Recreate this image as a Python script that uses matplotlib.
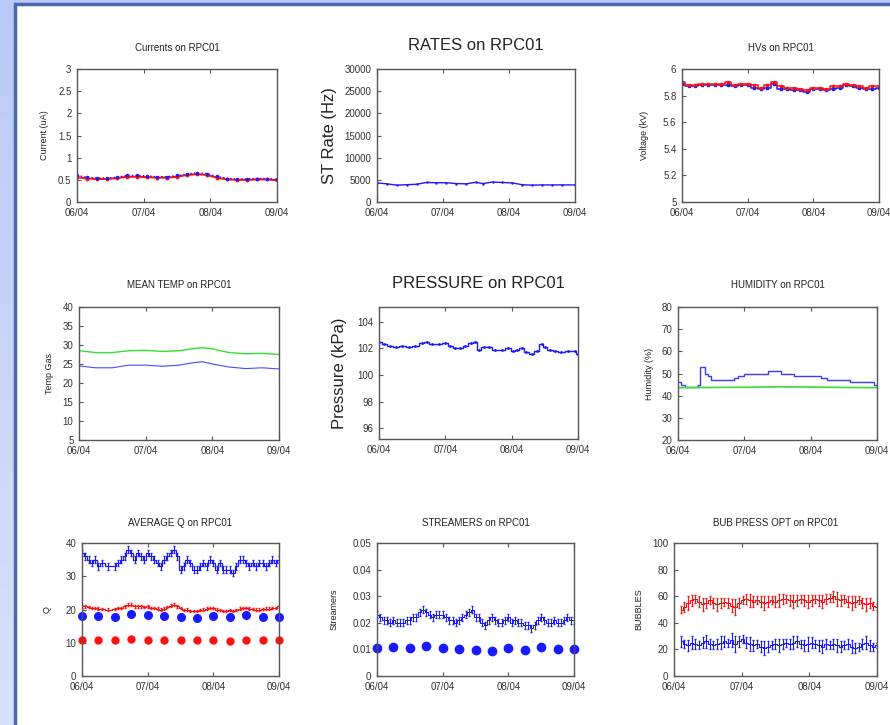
import numpy as np
import matplotlib
matplotlib.use("Agg")
import matplotlib.pyplot as plt
from matplotlib.patches import Rectangle

plt.rcParams['font.family'] = ['Liberation Sans', 'DejaVu Sans']

W, H = 890, 725

# ---------------- data ----------------
day_ticks = [0, 1, 2, 3]
day_labels = ["06/04", "07/04", "08/04", "09/04"]

cur_x = [0.0, 0.15, 0.3, 0.45, 0.6, 0.75, 0.9, 1.05, 1.2, 1.35, 1.5, 1.65, 1.8, 1.95,
         2.1, 2.25, 2.4, 2.55, 2.7, 2.85, 3.0]
cur_blue = [0.60, 0.56, 0.54, 0.54, 0.56, 0.60, 0.60, 0.59, 0.57, 0.57, 0.60, 0.63, 0.66, 0.64,
            0.58, 0.53, 0.52, 0.52, 0.53, 0.53, 0.51]
cur_red = [0.56, 0.53, 0.52, 0.52, 0.54, 0.57, 0.57, 0.56, 0.55, 0.55, 0.57, 0.61, 0.63, 0.61,
           0.55, 0.51, 0.50, 0.50, 0.51, 0.51, 0.49]

rate_x = [0.0, 0.15, 0.3, 0.45, 0.6, 0.75, 0.9, 1.05, 1.2, 1.35, 1.5, 1.6, 1.75, 1.9,
          2.05, 2.2, 2.35, 2.5, 2.65, 2.8, 3.0]
rate_vals = [4300, 4100, 3800, 3900, 4000, 4400, 4350, 4350, 4150, 4100, 4450, 4150, 4500, 4400,
             4300, 3900, 3800, 3850, 3850, 3850, 3850]

hv_x = [0.0, 0.1, 0.2, 0.3, 0.4, 0.5, 0.6, 0.7, 0.8, 0.9, 1.0, 1.1, 1.2, 1.3, 1.4, 1.5,
        1.6, 1.7, 1.8, 1.9, 2.0, 2.1, 2.2, 2.3, 2.4, 2.5, 2.6, 2.7, 2.8, 2.9, 3.0]
hv_red = [5.90, 5.88, 5.88, 5.89, 5.89, 5.89, 5.89, 5.90, 5.88, 5.89, 5.89, 5.88, 5.86, 5.88,
          5.90, 5.87, 5.86, 5.86, 5.85, 5.84, 5.86, 5.86, 5.85, 5.87, 5.87, 5.89, 5.88, 5.87,
          5.86, 5.87, 5.87]
hv_blue = [5.89, 5.87, 5.87, 5.88, 5.88, 5.88, 5.88, 5.88, 5.87, 5.88, 5.88, 5.86, 5.85, 5.86,
           5.89, 5.85, 5.85, 5.84, 5.84, 5.83, 5.85, 5.85, 5.84, 5.85, 5.86, 5.88, 5.87, 5.86,
           5.85, 5.85, 5.86]

temp_x = [0.0, 0.25, 0.5, 0.75, 1.0, 1.25, 1.5, 1.7, 1.85, 2.0, 2.25, 2.5, 2.75, 3.0]
temp_green = [28.5, 28.0, 28.0, 28.5, 28.6, 28.3, 28.5, 29.0, 29.3, 29.0, 28.0, 27.7, 27.8, 27.5]
temp_blue = [24.5, 24.0, 24.0, 24.7, 24.7, 24.4, 24.7, 25.3, 25.6, 25.0, 24.2, 23.8, 24.0, 23.7]

pres_x = [0.0, 0.08, 0.16, 0.25, 0.35, 0.45, 0.55, 0.65, 0.72, 0.8, 0.9, 1.0, 1.07, 1.15,
          1.22, 1.3, 1.38, 1.45, 1.5, 1.58, 1.66, 1.75, 1.85, 1.95, 2.02, 2.08, 2.15, 2.22,
          2.3, 2.38, 2.45, 2.5, 2.58, 2.66, 2.75, 2.85, 2.95, 3.0]
pres_vals = [102.5, 102.3, 102.2, 102.1, 102.2, 102.1, 102.2, 102.4, 102.5, 102.3, 102.3, 102.4,
             102.2, 102.0, 102.0, 102.2, 102.4, 102.5, 101.9, 102.1, 102.1, 101.9, 101.9, 102.0,
             101.8, 101.9, 102.0, 101.7, 101.6, 101.8, 102.3, 102.1, 101.9, 101.8, 101.7, 101.8,
             101.8, 101.6]

hum_x = [0.0, 0.05, 0.1, 0.3, 0.33, 0.4, 0.45, 0.5, 0.8, 0.85, 0.9, 1.0, 1.3, 1.35,
         1.5, 1.55, 1.75, 2.0, 2.15, 2.25, 2.55, 2.6, 2.9, 2.95, 3.0]
hum_blue = [46, 45, 44, 45, 53, 50, 49, 47, 47, 48, 49, 50, 50, 51,
            51, 50, 49, 49, 48, 47, 47, 46, 46, 45, 45]
hum_green_x = [0.0, 0.5, 1.0, 1.5, 2.0, 2.5, 3.0]
hum_green = [43.6, 43.7, 43.8, 44.0, 43.9, 43.7, 43.6]

q_x = [0.0, 0.05, 0.1, 0.15, 0.2, 0.25, 0.3, 0.4, 0.5, 0.55, 0.6, 0.65, 0.7, 0.75, 0.8,
       0.85, 0.9, 0.95, 1.0, 1.05, 1.1, 1.15, 1.2, 1.25, 1.3, 1.35, 1.4, 1.45, 1.5, 1.55,
       1.6, 1.65, 1.7, 1.75, 1.8, 1.85, 1.9, 1.95, 2.0, 2.05, 2.1, 2.15, 2.2, 2.25, 2.3,
       2.35, 2.4, 2.45, 2.5, 2.55, 2.6, 2.65, 2.7, 2.75, 2.8, 2.85, 2.9, 2.95, 3.0]
q_blue = [37, 36, 35, 34, 35, 33, 34, 33, 33, 34, 35, 36, 38, 37, 35, 37, 36, 35, 37, 36,
          35, 34, 33, 35, 36, 37, 38, 36, 32, 33, 35, 34, 32, 32, 33, 34, 33, 35, 34, 32,
          34, 32, 32, 32, 31, 33, 35, 35, 34, 33, 34, 33, 34, 34, 33, 34, 35, 34, 35]
q_blue_err = [1.0] * len(q_x)
q_red = [21.0, 21.0, 20.8, 20.5, 20.5, 20.3, 20.2, 20.0, 20.2, 20.5, 20.5, 21.0, 21.5, 21.5,
         21.0, 21.0, 21.0, 20.8, 21.0, 20.5, 20.5, 20.3, 20.0, 20.3, 20.8, 21.2, 21.5, 21.0,
         20.5, 19.8, 20.0, 19.5, 19.5, 19.5, 19.8, 20.0, 20.3, 20.5, 20.5, 20.0, 19.8, 19.5,
         19.5, 19.8, 19.5, 19.8, 20.3, 20.5, 20.5, 20.3, 20.2, 20.0, 20.0, 20.2, 20.3, 20.3,
         20.5, 20.5, 21.0]
q_red_err = [0.4] * len(q_x)
qdot_x = [0.0, 0.25, 0.5, 0.75, 1.0, 1.25, 1.5, 1.75, 2.0, 2.25, 2.5, 2.75, 3.0]
qdot_blue = [18.0, 18.0, 17.6, 18.6, 18.3, 18.0, 17.8, 17.5, 18.0, 17.6, 18.3, 17.8, 17.8]
qdot_red = [10.8, 10.8, 10.7, 11.0, 10.9, 10.8, 10.8, 10.7, 10.7, 10.6, 10.8, 10.8, 10.7]

st_x = [0.0, 0.05, 0.1, 0.15, 0.2, 0.25, 0.3, 0.35, 0.4, 0.45, 0.5, 0.55, 0.6, 0.65, 0.7,
        0.75, 0.8, 0.85, 0.9, 0.95, 1.0, 1.05, 1.1, 1.15, 1.2, 1.25, 1.3, 1.35, 1.4, 1.45,
        1.5, 1.55, 1.6, 1.65, 1.7, 1.75, 1.8, 1.85, 1.9, 1.95, 2.0, 2.05, 2.1, 2.15, 2.2,
        2.25, 2.3, 2.35, 2.4, 2.45, 2.5, 2.55, 2.6, 2.65, 2.7, 2.75, 2.8, 2.85, 2.9, 2.95, 3.0]
st_vals = [0.023, 0.022, 0.021, 0.021, 0.020, 0.021, 0.020, 0.020, 0.020, 0.021, 0.021, 0.022,
           0.022, 0.024, 0.025, 0.024, 0.023, 0.022, 0.023, 0.023, 0.023, 0.022, 0.021, 0.021,
           0.020, 0.021, 0.022, 0.023, 0.024, 0.025, 0.022, 0.022, 0.020, 0.019, 0.021, 0.022,
           0.021, 0.020, 0.020, 0.021, 0.022, 0.020, 0.021, 0.020, 0.020, 0.019, 0.019, 0.018,
           0.019, 0.021, 0.022, 0.021, 0.020, 0.020, 0.021, 0.020, 0.020, 0.021, 0.022, 0.021,
           0.021]
st_err = [0.0013] * len(st_x)
stdot_x = [0.0, 0.25, 0.5, 0.75, 1.0, 1.25, 1.5, 1.75, 2.0, 2.25, 2.5, 2.75, 3.0]
stdot_vals = [0.0105, 0.0110, 0.0105, 0.0112, 0.0106, 0.0102, 0.0098, 0.0095, 0.0105, 0.0098,
              0.0108, 0.0100, 0.0100]

bub_x = np.linspace(0.1, 3.0, 55)
bub_red = [50, 52, 55, 57, 58, 56, 54, 55, 57, 55, 54, 55, 56, 55, 53, 52, 55, 57, 58, 57,
           56, 57, 56, 55, 56, 57, 56, 57, 58, 58, 57, 56, 57, 58, 57, 56, 57, 58, 57, 56,
           58, 59, 60, 58, 57, 58, 56, 55, 56, 57, 55, 54, 55, 53, 52]
bub_red_err = [3, 4, 5, 4, 3, 4, 5, 4, 3, 4, 5, 4, 3, 4, 5, 6, 4, 3, 4, 5,
               4, 3, 4, 5, 4, 3, 4, 5, 4, 3, 4, 5, 4, 3, 4, 5, 4, 3, 4, 5,
               4, 3, 4, 5, 4, 3, 4, 5, 4, 3, 4, 5, 4, 3, 2]
bub_blue = [26, 24, 23, 25, 24, 23, 25, 26, 24, 23, 24, 25, 26, 25, 27, 24, 26, 28, 25, 24,
            23, 24, 22, 21, 22, 23, 24, 23, 24, 25, 24, 25, 26, 24, 23, 24, 25, 24, 23, 22,
            24, 23, 24, 23, 22, 23, 24, 22, 21, 22, 24, 25, 23, 22, 23]
bub_blue_err = [4, 3, 4, 5, 4, 3, 4, 5, 4, 3, 4, 5, 4, 3, 5, 6, 4, 3, 4, 5,
                4, 3, 4, 5, 4, 3, 4, 5, 4, 3, 4, 5, 4, 3, 4, 5, 4, 3, 4, 5,
                4, 3, 4, 5, 4, 3, 4, 5, 4, 3, 4, 5, 4, 3, 2]

BLUE = '#1a1aff'
RED = '#ff1010'
GREEN = '#33e033'
FRAME = '#555555'
TXT = '#333333'

# ---------------- figure & background ----------------
fig = plt.figure(figsize=(W / 100, H / 100), dpi=100)
bg = fig.add_axes([0, 0, 1, 1], zorder=-10)
grad = np.linspace(0, 1, 256).reshape(-1, 1)
c_top = np.array([0.73, 0.79, 0.97])
c_bot = np.array([0.85, 0.88, 0.98])
img = c_top[None, None, :] * (1 - grad[:, :, None]) + c_bot[None, None, :] * grad[:, :, None]
bg.imshow(img, aspect='auto', extent=[0, 1, 0, 1])
bg.set_xlim(0, 1); bg.set_ylim(0, 1)
bg.axis('off')
bg.add_patch(Rectangle((14.5 / W, -0.1), 1.2, (H - 4.5) / H + 0.1, transform=bg.transAxes,
                       facecolor='white', edgecolor='#4a69ad', linewidth=2.5, zorder=2))


def make_ax(l, t, r, b):
    ax = fig.add_axes([l / W, 1 - b / H, (r - l) / W, (b - t) / H])
    for s in ax.spines.values():
        s.set_color(FRAME)
        s.set_linewidth(1.0)
    ax.set_xlim(0, 3)
    ax.set_xticks(day_ticks)
    ax.set_xticklabels(day_labels)
    ax.tick_params(direction='in', length=3, width=0.8, color=FRAME, labelsize=7,
                   labelcolor=TXT, top=True, right=False, pad=4)
    return ax


def deco(ax, title, ylabel, big=False, lab_x=-0.18, title_dy=21):
    h_px = ax.get_position().height * H
    fs_t = 12 if big else 7
    ax.text(0.5, 1 + title_dy / h_px, title, transform=ax.transAxes, ha='center',
            va='center', fontsize=fs_t, color='#222222')
    ax.set_ylabel(ylabel, fontsize=12 if big else 6.5, color='#222222')
    ax.yaxis.set_label_coords(lab_x, 0.5)


# Row 1
ax = make_ax(77, 69, 277, 202)
ax.plot(cur_x, cur_red, color=RED, lw=1.5, marker='o', ms=1.8)
ax.plot(cur_x, cur_blue, color=BLUE, lw=1.0, marker='o', ms=1.5, ls=':')
ax.set_ylim(0, 3)
ax.set_yticks([0, 0.5, 1, 1.5, 2, 2.5, 3])
ax.set_yticklabels(['0', '0.5', '1', '1.5', '2', '2.5', '3'])
deco(ax, 'Currents on RPC01', 'Current (uA)', lab_x=-0.14)

ax = make_ax(377, 69, 575, 202)
ax.plot(rate_x, rate_vals, color=BLUE, lw=1.0, marker='.', ms=1.5)
ax.set_ylim(0, 30000)
ax.set_yticks(range(0, 30001, 5000))
deco(ax, 'RATES on RPC01', 'ST Rate (Hz)', big=True, lab_x=-0.2, title_dy=24)

ax = make_ax(682, 69, 879, 202)
ax.step(hv_x, hv_blue, where='mid', color=BLUE, lw=1.1)
ax.plot(hv_x, hv_blue, ls='none', color=BLUE, marker='s', ms=1.6)
ax.step(hv_x, hv_red, where='mid', color=RED, lw=1.1)
ax.plot(hv_x, hv_red, ls='none', color=RED, marker='s', ms=1.6)
ax.set_ylim(5, 6)
ax.set_yticks([5, 5.2, 5.4, 5.6, 5.8, 6])
ax.set_yticklabels(['5', '5.2', '5.4', '5.6', '5.8', '6'])
deco(ax, 'HVs on RPC01', 'Voltage (kV)', lab_x=-0.17)

# Row 2
ax = make_ax(79, 307, 279, 440)
ax.plot(temp_x, temp_green, color=GREEN, lw=1.0)
ax.plot(temp_x, temp_blue, color=BLUE, lw=0.8, alpha=0.8)
ax.set_ylim(5, 40)
ax.set_yticks(range(5, 41, 5))
deco(ax, 'MEAN TEMP on RPC01', 'Temp Gas', lab_x=-0.125, title_dy=22)

ax = make_ax(379, 307, 578, 439)
ax.step(pres_x, pres_vals, where='mid', color=BLUE, lw=1.0, marker='.', ms=2)
ax.set_ylim(95.2, 105.1)
ax.set_yticks([96, 98, 100, 102, 104])
deco(ax, 'PRESSURE on RPC01', 'Pressure (kPa)', big=True, lab_x=-0.16, title_dy=24)

ax = make_ax(678, 307, 877, 440)
ax.step(hum_x, hum_blue, where='post', color=BLUE, lw=1.0, alpha=0.85)
ax.plot(hum_green_x, hum_green, color=GREEN, lw=1.2)
ax.set_ylim(20, 80)
ax.set_yticks(range(20, 81, 10))
deco(ax, 'HUMIDITY on RPC01', 'Humidity (%)', lab_x=-0.12, title_dy=22)

# Row 3
ax = make_ax(82, 543, 279, 676)
ax.step(q_x, q_blue, where='mid', color=BLUE, lw=0.9)
ax.errorbar(q_x, q_blue, yerr=q_blue_err, fmt='none', ecolor=BLUE, elinewidth=0.8, capsize=1)
ax.step(q_x, q_red, where='mid', color=RED, lw=0.8)
ax.errorbar(q_x, q_red, yerr=q_red_err, fmt='none', ecolor=RED, elinewidth=0.7, capsize=1)
ax.plot(qdot_x, qdot_blue, 'o', color=BLUE, ms=5.5, clip_on=False)
ax.plot(qdot_x, qdot_red, 'o', color=RED, ms=5, clip_on=False)
ax.set_ylim(0, 40)
ax.set_yticks([0, 10, 20, 30, 40])
deco(ax, 'AVERAGE Q on RPC01', 'Q', lab_x=-0.155, title_dy=20)

ax = make_ax(377, 543, 574, 676)
ax.step(st_x, st_vals, where='mid', color=BLUE, lw=0.8)
ax.errorbar(st_x, st_vals, yerr=st_err, fmt='none', ecolor=BLUE, elinewidth=0.7, capsize=1)
ax.plot(stdot_x, stdot_vals, 'o', color=BLUE, ms=6, clip_on=False)
ax.set_ylim(0, 0.05)
ax.set_yticks([0, 0.01, 0.02, 0.03, 0.04, 0.05])
ax.set_yticklabels(['0', '0.01', '0.02', '0.03', '0.04', '0.05'])
deco(ax, 'STREAMERS on RPC01', 'Streamers', lab_x=-0.195, title_dy=20)

ax = make_ax(674, 543, 877, 676)
ax.step(bub_x, bub_red, where='mid', color=RED, lw=0.8)
ax.errorbar(bub_x, bub_red, yerr=bub_red_err, fmt='none', ecolor=RED, elinewidth=0.8, capsize=1)
ax.step(bub_x, bub_blue, where='mid', color=BLUE, lw=0.8)
ax.errorbar(bub_x, bub_blue, yerr=bub_blue_err, fmt='none', ecolor=BLUE, elinewidth=0.8, capsize=1)
ax.set_ylim(0, 100)
ax.set_yticks(range(0, 101, 20))
deco(ax, 'BUB PRESS OPT on RPC01', 'BUBBLES', lab_x=-0.15, title_dy=20)

fig.savefig('out.png', dpi=100)
